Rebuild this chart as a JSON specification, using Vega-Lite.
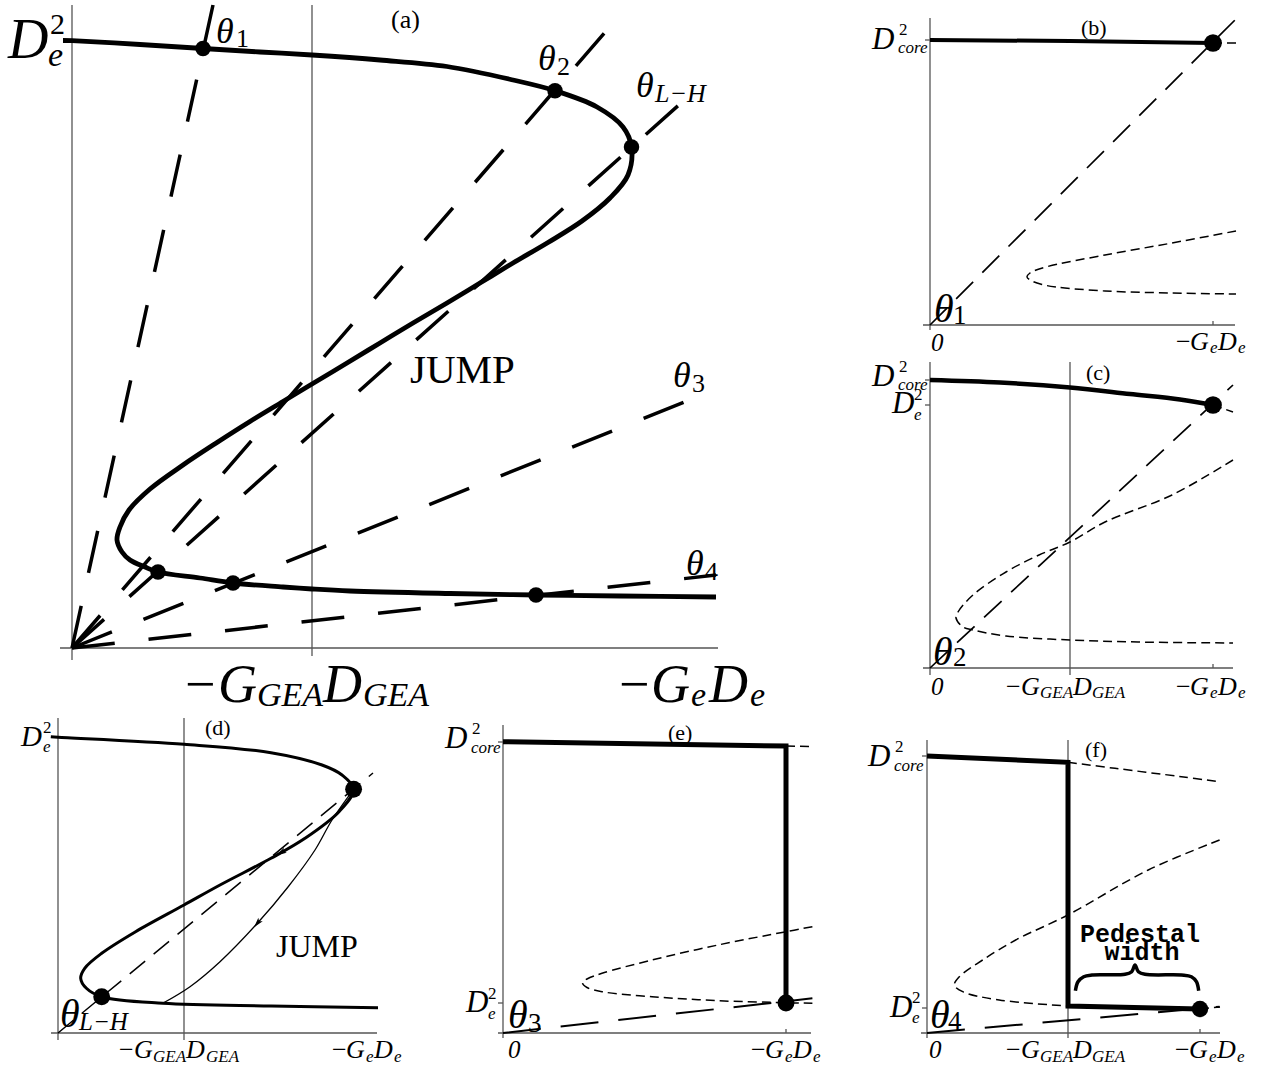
{
  "$schema": "https://vega.github.io/schema/vega-lite/v6.json",
  "padding": 0,
  "background": "white",
  "spacing": 0,
  "config": {"view": {"stroke": null}, "concat": {"spacing": 0}},
  "resolve": {"scale": {"x": "independent", "y": "independent", "size": "independent"}},
  "datasets": {
    "a_axis": [{"x":0,"y":643,"x2":0,"y2":-12},{"x":-12,"y":0,"x2":646,"y2":0},{"x":240,"y":643,"x2":240,"y2":-8}],
    "a_ray": [{"x":0,"y":0,"x2":141,"y2":643},{"x":0,"y":0,"x2":541,"y2":625},{"x":0,"y":0,"x2":618,"y2":553},{"x":0,"y":0,"x2":625,"y2":251},{"x":0,"y":0,"x2":644,"y2":73}],
    "a_thick": [
      {"i":1,"x":-9,"y":607.5},{"i":2,"x":0,"y":607.3},{"i":3,"x":68,"y":603.5},{"i":4,"x":131,"y":599.5},{"i":5,"x":188,"y":596},
      {"i":6,"x":240,"y":593},{"i":7,"x":308,"y":588},{"i":8,"x":375,"y":581.5},{"i":9,"x":441,"y":568},{"i":10,"x":483,"y":557.3},
      {"i":11,"x":525,"y":541},{"i":12,"x":551,"y":521},{"i":13,"x":559.5,"y":501},{"i":14,"x":556,"y":473},{"i":15,"x":538,"y":450},
      {"i":16,"x":510,"y":427},{"i":17,"x":476,"y":405.5},{"i":18,"x":441,"y":385},{"i":19,"x":408,"y":365},{"i":20,"x":375,"y":345},
      {"i":21,"x":341,"y":325},{"i":22,"x":308,"y":305},{"i":23,"x":275,"y":285},{"i":24,"x":240,"y":264},{"i":25,"x":211,"y":246.5},
      {"i":26,"x":178,"y":226.5},{"i":27,"x":145,"y":205.5},{"i":28,"x":111,"y":183},{"i":29,"x":78,"y":159},{"i":30,"x":57,"y":138},
      {"i":31,"x":48,"y":121},{"i":32,"x":45,"y":108},{"i":33,"x":50,"y":96},{"i":34,"x":58,"y":88},{"i":35,"x":73,"y":81},
      {"i":36,"x":86,"y":76},{"i":37,"x":128,"y":70},{"i":38,"x":161,"y":65},{"i":39,"x":211,"y":61},{"i":40,"x":240,"y":59},
      {"i":41,"x":278,"y":57},{"i":42,"x":378,"y":54.5},{"i":43,"x":464,"y":53},{"i":44,"x":548,"y":52},{"i":45,"x":644,"y":51}
    ],
    "a_dot": [{"x":131,"y":599.5},{"x":483,"y":557.3},{"x":559.5,"y":501},{"x":86,"y":76},{"x":161,"y":65},{"x":464,"y":53}],
    "a_text": [
      {"k":"D","t":"D","x":-64,"y":590},{"k":"sup","t":"2","x":-22,"y":614},{"k":"De","t":"e","x":-24,"y":582},
      {"k":"th","t":"θ","x":144,"y":605},{"k":"ths","t":"1","x":164,"y":601},
      {"k":"th","t":"θ","x":466,"y":578},{"k":"ths","t":"2","x":485,"y":573},
      {"k":"th","t":"θ","x":564,"y":551},{"k":"thi","t":"L−H","x":583,"y":546},
      {"k":"th","t":"θ","x":601,"y":261},{"k":"ths","t":"3","x":620,"y":256},
      {"k":"th","t":"θ","x":614,"y":73},{"k":"ths","t":"4","x":633,"y":68},
      {"k":"par","t":"(a)","x":319,"y":620},{"k":"word","t":"JUMP","x":338,"y":265},
      {"k":"minus","t":"−","x":113,"y":-54},{"k":"G","t":"G","x":146,"y":-54},{"k":"gs","t":"GEA","x":185,"y":-58},{"k":"G","t":"D","x":251,"y":-54},{"k":"gs","t":"GEA","x":291,"y":-58},
      {"k":"minus","t":"−","x":547,"y":-54},{"k":"G","t":"G","x":579,"y":-54},{"k":"gs","t":"e","x":619,"y":-58},{"k":"G","t":"D","x":637,"y":-54},{"k":"gs","t":"e","x":678,"y":-58}
    ],
    "b_axis": [{"x":0,"y":307,"x2":0,"y2":-5},{"x":-7,"y":0,"x2":305,"y2":0},{"x":283,"y":0,"x2":283,"y2":4},{"x":-5,"y":285,"x2":0,"y2":285}],
    "b_ray": [{"x":0,"y":0,"x2":305,"y2":305}],
    "b_sd": [
      {"c":"s","i":1,"x":306,"y":94},{"c":"s","i":2,"x":242,"y":82},{"c":"s","i":3,"x":175,"y":70},{"c":"s","i":4,"x":116,"y":58},
      {"c":"s","i":5,"x":100,"y":52},{"c":"s","i":6,"x":97,"y":48},{"c":"s","i":7,"x":102,"y":44},{"c":"s","i":8,"x":112,"y":40.5},
      {"c":"s","i":9,"x":126,"y":38},{"c":"s","i":10,"x":175,"y":34},{"c":"s","i":11,"x":242,"y":32},{"c":"s","i":12,"x":306,"y":31},
      {"c":"t","i":1,"x":283,"y":282},{"c":"t","i":2,"x":306,"y":282}
    ],
    "b_thick": [{"i":1,"x":0,"y":285},{"i":2,"x":140,"y":284},{"i":3,"x":283,"y":282}],
    "b_dot": [{"x":283,"y":282}],
    "b_text": [
      {"k":"D","t":"D","x":-58,"y":276},{"k":"sup","t":"2","x":-31,"y":290},{"k":"De","t":"core","x":-32,"y":272},
      {"k":"par","t":"(b)","x":151,"y":290},
      {"k":"th","t":"θ","x":4,"y":3},{"k":"ths","t":"1","x":23,"y":1},
      {"k":"zero","t":"0","x":1,"y":-26},
      {"k":"minus","t":"−","x":246,"y":-25},{"k":"G","t":"G","x":260,"y":-25},{"k":"gs","t":"e","x":280,"y":-28},{"k":"G","t":"D","x":288,"y":-25},{"k":"gs","t":"e","x":308,"y":-28}
    ],
    "c_axis": [{"x":0,"y":306,"x2":0,"y2":-7},{"x":140,"y":306,"x2":140,"y2":-7},{"x":-7,"y":0,"x2":303,"y2":0},{"x":283,"y":0,"x2":283,"y2":4},{"x":-5,"y":288,"x2":0,"y2":288},{"x":-5,"y":263,"x2":0,"y2":263}],
    "c_ray": [{"x":0,"y":0,"x2":303,"y2":283}],
    "c_sd": [
      {"c":"s","i":1,"x":303,"y":208},{"c":"s","i":2,"x":242,"y":173},{"c":"s","i":3,"x":175,"y":146},{"c":"s","i":4,"x":140,"y":126},
      {"c":"s","i":5,"x":109,"y":113},{"c":"s","i":6,"x":76,"y":96},{"c":"s","i":7,"x":43,"y":73},{"c":"s","i":8,"x":28,"y":56},
      {"c":"s","i":9,"x":26,"y":50},{"c":"s","i":10,"x":33,"y":41},{"c":"s","i":11,"x":43,"y":38},{"c":"s","i":12,"x":76,"y":32},
      {"c":"s","i":13,"x":140,"y":28},{"c":"s","i":14,"x":208,"y":26},{"c":"s","i":15,"x":303,"y":25},
      {"c":"t","i":1,"x":283,"y":263},{"c":"t","i":2,"x":303,"y":256}
    ],
    "c_thick": [{"i":1,"x":0,"y":288},{"i":2,"x":70,"y":285.5},{"i":3,"x":140,"y":280.5},{"i":4,"x":200,"y":274},{"i":5,"x":250,"y":268.5},{"i":6,"x":283,"y":263}],
    "c_dot": [{"x":283,"y":263}],
    "c_text": [
      {"k":"D","t":"D","x":-58,"y":282},{"k":"sup","t":"2","x":-31,"y":296},{"k":"De","t":"core","x":-32,"y":278},
      {"k":"D","t":"D","x":-38,"y":255},{"k":"sup","t":"2","x":-16,"y":268},{"k":"De","t":"e","x":-16,"y":248},
      {"k":"par","t":"(c)","x":156,"y":288},
      {"k":"th","t":"θ","x":3,"y":3},{"k":"ths","t":"2","x":23,"y":2},
      {"k":"zero","t":"0","x":1,"y":-27},
      {"k":"minus","t":"−","x":76,"y":-27},{"k":"G","t":"G","x":91,"y":-27},{"k":"gs","t":"GEA","x":110,"y":-30},{"k":"G","t":"D","x":143,"y":-27},{"k":"gs","t":"GEA","x":162,"y":-30},
      {"k":"minus","t":"−","x":246,"y":-27},{"k":"G","t":"G","x":260,"y":-27},{"k":"gs","t":"e","x":280,"y":-30},{"k":"G","t":"D","x":288,"y":-27},{"k":"gs","t":"e","x":308,"y":-30}
    ],
    "d_axis": [{"x":0,"y":315,"x2":0,"y2":-7},{"x":126,"y":315,"x2":126,"y2":-7},{"x":-7,"y":0,"x2":319,"y2":0}],
    "d_ray": [{"x":0,"y":0,"x2":315,"y2":260}],
    "d_thick": [
      {"i":1,"x":-7.2,"y":296.3},{"i":2,"x":0,"y":295.8},{"i":3,"x":126,"y":288.7},{"i":4,"x":213,"y":280.3},{"i":5,"x":264,"y":268},
      {"i":6,"x":284,"y":258},{"i":7,"x":295.6,"y":243.7},{"i":8,"x":281,"y":221.3},{"i":9,"x":247,"y":194.7},{"i":10,"x":213,"y":174.7},
      {"i":11,"x":162,"y":148},{"i":12,"x":126,"y":128},{"i":13,"x":77.6,"y":101.3},{"i":14,"x":43.7,"y":79.7},{"i":15,"x":26.7,"y":64.7},
      {"i":16,"x":22.7,"y":54.7},{"i":17,"x":28.4,"y":44.7},{"i":18,"x":43.7,"y":36.3},{"i":19,"x":104.7,"y":29.7},{"i":20,"x":213,"y":27},
      {"i":21,"x":320,"y":25.3}
    ],
    "d_thin": [
      {"i":1,"x":295.6,"y":243.7},{"i":2,"x":274,"y":213},{"i":3,"x":257,"y":183},{"i":4,"x":230,"y":146},
      {"i":5,"x":199.6,"y":110},{"i":6,"x":162,"y":71.3},{"i":7,"x":132,"y":46.3},{"i":8,"x":104.7,"y":29.7}
    ],
    "d_dot": [{"x":295.6,"y":243.7},{"x":43.7,"y":36.3}],
    "d_arrow": [{"c":"thin","x":199.6,"y":110},{"c":"thick","x":223.4,"y":180.5}],
    "d_text": [
      {"k":"D","t":"D","x":-37,"y":287},{"k":"sup","t":"2","x":-15,"y":300},{"k":"De","t":"e","x":-15,"y":281},
      {"k":"par","t":"(d)","x":147,"y":298},
      {"k":"word","t":"JUMP","x":218,"y":76},
      {"k":"th","t":"θ","x":2,"y":6},{"k":"thi","t":"L−H","x":21,"y":3},
      {"k":"minus","t":"−","x":61,"y":-25},{"k":"G","t":"G","x":76,"y":-25},{"k":"gs","t":"GEA","x":95,"y":-29},{"k":"G","t":"D","x":128,"y":-25},{"k":"gs","t":"GEA","x":148,"y":-29},
      {"k":"minus","t":"−","x":274,"y":-25},{"k":"G","t":"G","x":288,"y":-25},{"k":"gs","t":"e","x":308,"y":-29},{"k":"G","t":"D","x":316,"y":-25},{"k":"gs","t":"e","x":336,"y":-29}
    ],
    "e_axis": [{"x":0,"y":308,"x2":0,"y2":-5},{"x":-5,"y":0,"x2":308,"y2":0},{"x":283,"y":0,"x2":283,"y2":4},{"x":-5,"y":291,"x2":0,"y2":291},{"x":-5,"y":30,"x2":0,"y2":30}],
    "e_ray": [{"x":0,"y":0,"x2":309.4,"y2":34.7}],
    "e_sd": [
      {"c":"s","i":1,"x":309.4,"y":106.3},{"c":"s","i":2,"x":283,"y":101.3},{"c":"s","i":3,"x":215,"y":88},{"c":"s","i":4,"x":149,"y":73},
      {"c":"s","i":5,"x":99,"y":59.7},{"c":"s","i":6,"x":84,"y":54},{"c":"s","i":7,"x":79.5,"y":50},{"c":"s","i":8,"x":84,"y":45.5},
      {"c":"s","i":9,"x":99,"y":41.3},{"c":"s","i":10,"x":149,"y":36.3},{"c":"s","i":11,"x":215,"y":32.3},{"c":"s","i":12,"x":283,"y":30.3},
      {"c":"s","i":13,"x":309.4,"y":29.7},
      {"c":"t","i":1,"x":283,"y":287},{"c":"t","i":2,"x":309,"y":286.5}
    ],
    "e_thick": [{"i":1,"x":0,"y":291.3},{"i":2,"x":283,"y":287},{"i":3,"x":283,"y":30}],
    "e_dot": [{"x":283,"y":30}],
    "e_text": [
      {"k":"D","t":"D","x":-58,"y":285},{"k":"sup","t":"2","x":-31,"y":299},{"k":"De","t":"core","x":-32,"y":280},
      {"k":"D","t":"D","x":-37,"y":21},{"k":"sup","t":"2","x":-15,"y":34},{"k":"De","t":"e","x":-15,"y":14},
      {"k":"par","t":"(e)","x":165,"y":293},
      {"k":"th","t":"θ","x":5,"y":5},{"k":"ths","t":"3","x":25,"y":1},
      {"k":"zero","t":"0","x":5,"y":-25},
      {"k":"minus","t":"−","x":248,"y":-25},{"k":"G","t":"G","x":262,"y":-25},{"k":"gs","t":"e","x":282,"y":-29},{"k":"G","t":"D","x":290,"y":-25},{"k":"gs","t":"e","x":310,"y":-29}
    ],
    "f_axis": [{"x":0,"y":293,"x2":0,"y2":-5},{"x":141,"y":293,"x2":141,"y2":-5},{"x":-6,"y":0,"x2":293,"y2":0},{"x":273,"y":0,"x2":273,"y2":4},{"x":-5,"y":277,"x2":0,"y2":277},{"x":-5,"y":25,"x2":0,"y2":25}],
    "f_ray": [{"x":0,"y":0,"x2":292.6,"y2":26.3}],
    "f_sd": [
      {"c":"u","i":1,"x":141,"y":270.7},{"c":"u","i":2,"x":188,"y":264.7},{"c":"u","i":3,"x":254.5,"y":256.3},{"c":"u","i":4,"x":292.6,"y":251.3},
      {"c":"s","i":1,"x":292.6,"y":193},{"c":"s","i":2,"x":221.3,"y":163},{"c":"s","i":3,"x":140.8,"y":118},{"c":"s","i":4,"x":88.7,"y":93},
      {"c":"s","i":5,"x":55.6,"y":73},{"c":"s","i":6,"x":32.4,"y":56.3},{"c":"s","i":7,"x":27.4,"y":48},{"c":"s","i":8,"x":35.7,"y":41.3},
      {"c":"s","i":9,"x":72.2,"y":33},{"c":"s","i":10,"x":140.8,"y":27},
      {"c":"t","i":1,"x":273,"y":24},{"c":"t","i":2,"x":293,"y":26}
    ],
    "f_thick": [{"i":1,"x":0,"y":277},{"i":2,"x":141,"y":270.7},{"i":3,"x":141,"y":27},{"i":4,"x":273,"y":24}],
    "f_dot": [{"x":273,"y":24}],
    "f_brace": [
      {"i":1,"x":148.4,"y":42.3},{"i":2,"x":151,"y":51.3},{"i":3,"x":156.7,"y":56.3},{"i":4,"x":165,"y":58},{"i":5,"x":198.1,"y":58.7},
      {"i":6,"x":204.7,"y":61.3},{"i":7,"x":208,"y":68},{"i":8,"x":211.4,"y":61.3},{"i":9,"x":218,"y":58.7},{"i":10,"x":254.5,"y":58},
      {"i":11,"x":264.4,"y":56.3},{"i":12,"x":269.4,"y":51.3},{"i":13,"x":271.7,"y":42.3}
    ],
    "f_text": [
      {"k":"D","t":"D","x":-59,"y":267},{"k":"sup","t":"2","x":-32,"y":281},{"k":"De","t":"core","x":-33,"y":262},
      {"k":"D","t":"D","x":-37,"y":16},{"k":"sup","t":"2","x":-15,"y":30},{"k":"De","t":"e","x":-15,"y":10},
      {"k":"par","t":"(f)","x":158,"y":276},
      {"k":"th","t":"θ","x":3,"y":5},{"k":"ths","t":"4","x":21,"y":3},
      {"k":"zero","t":"0","x":2,"y":-25},
      {"k":"minus","t":"−","x":79,"y":-25},{"k":"G","t":"G","x":94,"y":-25},{"k":"gs","t":"GEA","x":113,"y":-29},{"k":"G","t":"D","x":146,"y":-25},{"k":"gs","t":"GEA","x":165,"y":-29},
      {"k":"minus","t":"−","x":248,"y":-25},{"k":"G","t":"G","x":262,"y":-25},{"k":"gs","t":"e","x":282,"y":-29},{"k":"G","t":"D","x":290,"y":-25},{"k":"gs","t":"e","x":310,"y":-29},
      {"k":"ped","t":"Pedestal","x":213,"y":91},{"k":"ped","t":"width","x":215,"y":73}
    ]
  },
  "vconcat": [
    {
      "spacing": 0,
      "resolve": {"scale": {"x": "independent", "y": "independent", "size": "independent"}},
      "hconcat": [
        {
          "width": 800, "height": 714,
          "encoding": {
            "x": {"field": "x", "type": "quantitative", "scale": {"domain": [-72, 728], "nice": false, "zero": false}, "axis": null},
            "y": {"field": "y", "type": "quantitative", "scale": {"domain": [-66, 648], "nice": false, "zero": false}, "axis": null}
          },
          "layer": [
            {"data": {"name": "a_axis"}, "mark": {"type": "rule", "color": "#555", "strokeWidth": 1.3}, "encoding": {"x2": {"field": "x2"}, "y2": {"field": "y2"}}},
            {"data": {"name": "a_ray"}, "mark": {"type": "rule", "color": "black", "strokeWidth": 3.5, "strokeDash": [43, 34]}, "encoding": {"x2": {"field": "x2"}, "y2": {"field": "y2"}}},
            {"data": {"name": "a_thick"}, "mark": {"type": "line", "color": "black", "strokeWidth": 4.8, "interpolate": "catmull-rom"}, "encoding": {"order": {"field": "i", "type": "quantitative"}}},
            {"data": {"name": "a_dot"}, "mark": {"type": "circle", "color": "black", "opacity": 1, "size": 240}},
            {"data": {"name": "a_text"}, "transform": [{"filter": "indexof(['D','De','th','thi','G','gs','zero'], datum.k) >= 0"}],
             "mark": {"type": "text", "font": "Liberation Serif", "fontStyle": "italic", "align": "left", "baseline": "alphabetic", "color": "black"},
             "encoding": {"text": {"field": "t", "type": "nominal"}, "size": {"field": "k", "type": "nominal", "legend": null, "scale": {"type": "ordinal", "domain": ["D","De","th","thi","G","gs","zero","sup","ths","minus","par","word"], "range": [56,34,36,26,54,34,25,30,26,54,26,41]}}}},
            {"data": {"name": "a_text"}, "transform": [{"filter": "indexof(['sup','ths','minus','par','word'], datum.k) >= 0"}],
             "mark": {"type": "text", "font": "Liberation Serif", "align": "left", "baseline": "alphabetic", "color": "black"},
             "encoding": {"text": {"field": "t", "type": "nominal"}, "size": {"field": "k", "type": "nominal", "legend": null, "scale": {"type": "ordinal", "domain": ["D","De","th","thi","G","gs","zero","sup","ths","minus","par","word"], "range": [56,34,36,26,54,34,25,30,26,54,26,41]}}}}
          ]
        },
        {
          "spacing": 0,
          "bounds": "flush",
          "resolve": {"scale": {"x": "independent", "y": "independent", "size": "independent"}},
          "vconcat": [
            {
              "width": 471, "height": 355,
              "encoding": {
                "x": {"field": "x", "type": "quantitative", "scale": {"domain": [-130, 341], "nice": false, "zero": false}, "axis": null},
                "y": {"field": "y", "type": "quantitative", "scale": {"domain": [-30, 325], "nice": false, "zero": false}, "axis": null}
              },
              "layer": [
                {"data": {"name": "b_axis"}, "mark": {"type": "rule", "color": "#555", "strokeWidth": 1.3}, "encoding": {"x2": {"field": "x2"}, "y2": {"field": "y2"}}},
                {"data": {"name": "b_sd"}, "mark": {"type": "line", "color": "black", "strokeWidth": 1.5, "strokeDash": [9, 5], "interpolate": "catmull-rom"}, "encoding": {"order": {"field": "i", "type": "quantitative"}, "detail": {"field": "c", "type": "nominal"}}},
                {"data": {"name": "b_ray"}, "mark": {"type": "rule", "color": "black", "strokeWidth": 1.7, "strokeDash": [24, 13]}, "encoding": {"x2": {"field": "x2"}, "y2": {"field": "y2"}}},
                {"data": {"name": "b_thick"}, "mark": {"type": "line", "color": "black", "strokeWidth": 4}, "encoding": {"order": {"field": "i", "type": "quantitative"}}},
                {"data": {"name": "b_dot"}, "mark": {"type": "circle", "color": "black", "opacity": 1, "size": 314}},
                {"data": {"name": "b_text"}, "transform": [{"filter": "indexof(['D','De','th','thi','G','gs','zero'], datum.k) >= 0"}],
                 "mark": {"type": "text", "font": "Liberation Serif", "fontStyle": "italic", "align": "left", "baseline": "alphabetic", "color": "black"},
                 "encoding": {"text": {"field": "t", "type": "nominal"}, "size": {"field": "k", "type": "nominal", "legend": null, "scale": {"type": "ordinal", "domain": ["D","De","th","thi","G","gs","zero","sup","ths","minus","par","word"], "range": [31,17,40,25,26,17,25,17,27,26,22,32]}}}},
                {"data": {"name": "b_text"}, "transform": [{"filter": "indexof(['sup','ths','minus','par','word'], datum.k) >= 0"}],
                 "mark": {"type": "text", "font": "Liberation Serif", "align": "left", "baseline": "alphabetic", "color": "black"},
                 "encoding": {"text": {"field": "t", "type": "nominal"}, "size": {"field": "k", "type": "nominal", "legend": null, "scale": {"type": "ordinal", "domain": ["D","De","th","thi","G","gs","zero","sup","ths","minus","par","word"], "range": [31,17,40,25,26,17,25,17,27,26,22,32]}}}}
              ]
            },
            {
              "width": 471, "height": 359,
              "encoding": {
                "x": {"field": "x", "type": "quantitative", "scale": {"domain": [-130, 341], "nice": false, "zero": false}, "axis": null},
                "y": {"field": "y", "type": "quantitative", "scale": {"domain": [-46, 313], "nice": false, "zero": false}, "axis": null}
              },
              "layer": [
                {"data": {"name": "c_axis"}, "mark": {"type": "rule", "color": "#555", "strokeWidth": 1.3}, "encoding": {"x2": {"field": "x2"}, "y2": {"field": "y2"}}},
                {"data": {"name": "c_sd"}, "mark": {"type": "line", "color": "black", "strokeWidth": 1.5, "strokeDash": [9, 5], "interpolate": "catmull-rom"}, "encoding": {"order": {"field": "i", "type": "quantitative"}, "detail": {"field": "c", "type": "nominal"}}},
                {"data": {"name": "c_ray"}, "mark": {"type": "rule", "color": "black", "strokeWidth": 1.7, "strokeDash": [24, 13]}, "encoding": {"x2": {"field": "x2"}, "y2": {"field": "y2"}}},
                {"data": {"name": "c_thick"}, "mark": {"type": "line", "color": "black", "strokeWidth": 4.5, "interpolate": "catmull-rom"}, "encoding": {"order": {"field": "i", "type": "quantitative"}}},
                {"data": {"name": "c_dot"}, "mark": {"type": "circle", "color": "black", "opacity": 1, "size": 314}},
                {"data": {"name": "c_text"}, "transform": [{"filter": "indexof(['D','De','th','thi','G','gs','zero'], datum.k) >= 0"}],
                 "mark": {"type": "text", "font": "Liberation Serif", "fontStyle": "italic", "align": "left", "baseline": "alphabetic", "color": "black"},
                 "encoding": {"text": {"field": "t", "type": "nominal"}, "size": {"field": "k", "type": "nominal", "legend": null, "scale": {"type": "ordinal", "domain": ["D","De","th","thi","G","gs","zero","sup","ths","minus","par","word"], "range": [31,17,40,25,26,17,25,17,27,26,22,32]}}}},
                {"data": {"name": "c_text"}, "transform": [{"filter": "indexof(['sup','ths','minus','par','word'], datum.k) >= 0"}],
                 "mark": {"type": "text", "font": "Liberation Serif", "align": "left", "baseline": "alphabetic", "color": "black"},
                 "encoding": {"text": {"field": "t", "type": "nominal"}, "size": {"field": "k", "type": "nominal", "legend": null, "scale": {"type": "ordinal", "domain": ["D","De","th","thi","G","gs","zero","sup","ths","minus","par","word"], "range": [31,17,40,25,26,17,25,17,27,26,22,32]}}}}
              ]
            }
          ]
        }
      ]
    },
    {
      "spacing": 0,
      "bounds": "flush",
      "resolve": {"scale": {"x": "independent", "y": "independent", "size": "independent"}},
      "hconcat": [
        {
          "width": 430, "height": 358,
          "encoding": {
            "x": {"field": "x", "type": "quantitative", "scale": {"domain": [-58, 372], "nice": false, "zero": false}, "axis": null},
            "y": {"field": "y", "type": "quantitative", "scale": {"domain": [-39, 319], "nice": false, "zero": false}, "axis": null}
          },
          "layer": [
            {"data": {"name": "d_axis"}, "mark": {"type": "rule", "color": "#555", "strokeWidth": 1.3}, "encoding": {"x2": {"field": "x2"}, "y2": {"field": "y2"}}},
            {"data": {"name": "d_ray"}, "mark": {"type": "rule", "color": "black", "strokeWidth": 1.5, "strokeDash": [20, 11]}, "encoding": {"x2": {"field": "x2"}, "y2": {"field": "y2"}}},
            {"data": {"name": "d_thick"}, "mark": {"type": "line", "color": "black", "strokeWidth": 3, "interpolate": "catmull-rom"}, "encoding": {"order": {"field": "i", "type": "quantitative"}}},
            {"data": {"name": "d_thin"}, "mark": {"type": "line", "color": "black", "strokeWidth": 1.3, "interpolate": "catmull-rom"}, "encoding": {"order": {"field": "i", "type": "quantitative"}}},
            {"data": {"name": "d_dot"}, "mark": {"type": "circle", "color": "black", "opacity": 1, "size": 285}},
            {"data": {"name": "d_arrow"}, "transform": [{"filter": "datum.c == 'thin'"}], "mark": {"type": "point", "shape": "M0,1L-0.5,-0.8L0,-0.4L0.5,-0.8Z", "filled": true, "color": "black", "opacity": 1, "size": 130, "angle": 40}},
            {"data": {"name": "d_arrow"}, "transform": [{"filter": "datum.c == 'thick'"}], "mark": {"type": "point", "shape": "M0,1L-0.5,-0.8L0,-0.4L0.5,-0.8Z", "filled": true, "color": "black", "opacity": 1, "size": 130, "angle": 60}},
            {"data": {"name": "d_text"}, "transform": [{"filter": "indexof(['D','De','th','thi','G','gs','zero'], datum.k) >= 0"}],
             "mark": {"type": "text", "font": "Liberation Serif", "fontStyle": "italic", "align": "left", "baseline": "alphabetic", "color": "black"},
             "encoding": {"text": {"field": "t", "type": "nominal"}, "size": {"field": "k", "type": "nominal", "legend": null, "scale": {"type": "ordinal", "domain": ["D","De","th","thi","G","gs","zero","sup","ths","minus","par","word"], "range": [29,17,40,25,26,17,25,17,27,26,22,32]}}}},
            {"data": {"name": "d_text"}, "transform": [{"filter": "indexof(['sup','ths','minus','par','word'], datum.k) >= 0"}],
             "mark": {"type": "text", "font": "Liberation Serif", "align": "left", "baseline": "alphabetic", "color": "black"},
             "encoding": {"text": {"field": "t", "type": "nominal"}, "size": {"field": "k", "type": "nominal", "legend": null, "scale": {"type": "ordinal", "domain": ["D","De","th","thi","G","gs","zero","sup","ths","minus","par","word"], "range": [29,17,40,25,26,17,25,17,27,26,22,32]}}}}
          ]
        },
        {
          "width": 430, "height": 358,
          "encoding": {
            "x": {"field": "x", "type": "quantitative", "scale": {"domain": [-73, 357], "nice": false, "zero": false}, "axis": null},
            "y": {"field": "y", "type": "quantitative", "scale": {"domain": [-39, 319], "nice": false, "zero": false}, "axis": null}
          },
          "layer": [
            {"data": {"name": "e_axis"}, "mark": {"type": "rule", "color": "#555", "strokeWidth": 1.3}, "encoding": {"x2": {"field": "x2"}, "y2": {"field": "y2"}}},
            {"data": {"name": "e_sd"}, "mark": {"type": "line", "color": "black", "strokeWidth": 1.5, "strokeDash": [9, 5], "interpolate": "catmull-rom"}, "encoding": {"order": {"field": "i", "type": "quantitative"}, "detail": {"field": "c", "type": "nominal"}}},
            {"data": {"name": "e_ray"}, "mark": {"type": "rule", "color": "black", "strokeWidth": 2, "strokeDash": [38, 20]}, "encoding": {"x2": {"field": "x2"}, "y2": {"field": "y2"}}},
            {"data": {"name": "e_thick"}, "mark": {"type": "line", "color": "black", "strokeWidth": 5, "strokeJoin": "miter"}, "encoding": {"order": {"field": "i", "type": "quantitative"}}},
            {"data": {"name": "e_dot"}, "mark": {"type": "circle", "color": "black", "opacity": 1, "size": 285}},
            {"data": {"name": "e_text"}, "transform": [{"filter": "indexof(['D','De','th','thi','G','gs','zero'], datum.k) >= 0"}],
             "mark": {"type": "text", "font": "Liberation Serif", "fontStyle": "italic", "align": "left", "baseline": "alphabetic", "color": "black"},
             "encoding": {"text": {"field": "t", "type": "nominal"}, "size": {"field": "k", "type": "nominal", "legend": null, "scale": {"type": "ordinal", "domain": ["D","De","th","thi","G","gs","zero","sup","ths","minus","par","word"], "range": [31,17,40,25,26,17,25,17,27,26,22,32]}}}},
            {"data": {"name": "e_text"}, "transform": [{"filter": "indexof(['sup','ths','minus','par','word'], datum.k) >= 0"}],
             "mark": {"type": "text", "font": "Liberation Serif", "align": "left", "baseline": "alphabetic", "color": "black"},
             "encoding": {"text": {"field": "t", "type": "nominal"}, "size": {"field": "k", "type": "nominal", "legend": null, "scale": {"type": "ordinal", "domain": ["D","De","th","thi","G","gs","zero","sup","ths","minus","par","word"], "range": [31,17,40,25,26,17,25,17,27,26,22,32]}}}}
          ]
        },
        {
          "width": 411, "height": 358,
          "encoding": {
            "x": {"field": "x", "type": "quantitative", "scale": {"domain": [-67, 344], "nice": false, "zero": false}, "axis": null},
            "y": {"field": "y", "type": "quantitative", "scale": {"domain": [-39, 319], "nice": false, "zero": false}, "axis": null}
          },
          "layer": [
            {"data": {"name": "f_axis"}, "mark": {"type": "rule", "color": "#555", "strokeWidth": 1.3}, "encoding": {"x2": {"field": "x2"}, "y2": {"field": "y2"}}},
            {"data": {"name": "f_sd"}, "mark": {"type": "line", "color": "black", "strokeWidth": 1.5, "strokeDash": [9, 5], "interpolate": "catmull-rom"}, "encoding": {"order": {"field": "i", "type": "quantitative"}, "detail": {"field": "c", "type": "nominal"}}},
            {"data": {"name": "f_ray"}, "mark": {"type": "rule", "color": "black", "strokeWidth": 2, "strokeDash": [38, 20]}, "encoding": {"x2": {"field": "x2"}, "y2": {"field": "y2"}}},
            {"data": {"name": "f_thick"}, "mark": {"type": "line", "color": "black", "strokeWidth": 5, "strokeJoin": "miter"}, "encoding": {"order": {"field": "i", "type": "quantitative"}}},
            {"data": {"name": "f_brace"}, "mark": {"type": "line", "color": "black", "strokeWidth": 3.5, "interpolate": "catmull-rom"}, "encoding": {"order": {"field": "i", "type": "quantitative"}}},
            {"data": {"name": "f_dot"}, "mark": {"type": "circle", "color": "black", "opacity": 1, "size": 270}},
            {"data": {"name": "f_text"}, "transform": [{"filter": "indexof(['D','De','th','thi','G','gs','zero'], datum.k) >= 0"}],
             "mark": {"type": "text", "font": "Liberation Serif", "fontStyle": "italic", "align": "left", "baseline": "alphabetic", "color": "black"},
             "encoding": {"text": {"field": "t", "type": "nominal"}, "size": {"field": "k", "type": "nominal", "legend": null, "scale": {"type": "ordinal", "domain": ["D","De","th","thi","G","gs","zero","sup","ths","minus","par","word"], "range": [31,17,40,25,26,17,25,17,27,26,22,32]}}}},
            {"data": {"name": "f_text"}, "transform": [{"filter": "indexof(['sup','ths','minus','par','word'], datum.k) >= 0"}],
             "mark": {"type": "text", "font": "Liberation Serif", "align": "left", "baseline": "alphabetic", "color": "black"},
             "encoding": {"text": {"field": "t", "type": "nominal"}, "size": {"field": "k", "type": "nominal", "legend": null, "scale": {"type": "ordinal", "domain": ["D","De","th","thi","G","gs","zero","sup","ths","minus","par","word"], "range": [31,17,40,25,26,17,25,17,27,26,22,32]}}}},
            {"data": {"name": "f_text"}, "transform": [{"filter": "datum.k == 'ped'"}],
             "mark": {"type": "text", "font": "Liberation Mono", "fontWeight": "bold", "fontSize": 25, "align": "center", "baseline": "alphabetic", "color": "black"},
             "encoding": {"text": {"field": "t", "type": "nominal"}}}
          ]
        }
      ]
    }
  ]
}
